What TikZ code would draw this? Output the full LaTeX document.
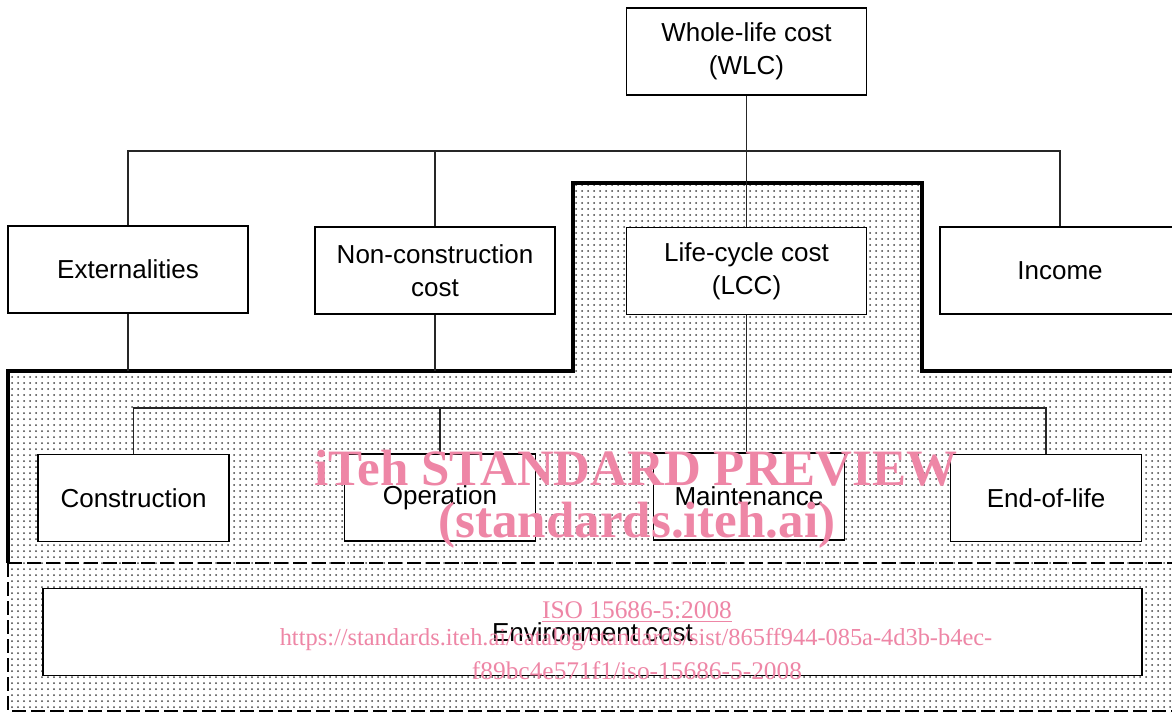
\documentclass[tikz,border=0pt]{standalone}
\usepackage{fontspec}
\setmainfont{Liberation Sans}
\newfontfamily\wmserif{Liberation Serif}
\usepackage{tikz}
\usetikzlibrary{
  positioning,
  patterns
}
\definecolor{wmpink}{RGB}{238,134,166}
\tikzset{
  costbox/.style={draw, line width=0.75pt, fill=white, align=center, inner sep=0pt,
    minimum width=120pt, minimum height=43.5pt,
    font=\fontsize{13}{16.5}\selectfont},
  phasebox/.style={costbox, minimum width=95.5pt},
  link/.style={draw=black!85, line width=0.55pt},
  rim/.style={line width=1.6pt, line join=miter},
  dashrim/.style={line width=1.1pt, dash pattern=on 7pt off 2.5pt},
  wmark/.style={text=wmpink, inner sep=0pt, anchor=base}
}
\begin{document}
\begin{tikzpicture}[x=0.5pt,y=-0.5pt]
            \clip (0,0) rectangle (1172,713);
            \useasboundingbox (0,0) rectangle (1172,713);
            % shaded LCC area and environment strip
            \fill[pattern=dots, pattern color=black!75]
              (8,712) -- (8,371) -- (573,371) -- (573,183) -- (922,183) -- (922,371) -- (1172,371) -- (1172,712) -- cycle;
            \draw[rim] (8,563) -- (8,371) -- (573,371) -- (573,183) -- (922,183) -- (922,371) -- (1180,371);
            \draw[dashrim] (8,563) -- (1180,563);
            \draw[dashrim] (8,563) -- (8,711) -- (1180,711);
            % top level
            \node[costbox] (wlc) at (746.5,51.5) {Whole-life cost\\(WLC)};
            \node[costbox] (ext) at (128,269.5) {Externalities};
            \node[costbox] (noncon) at (435,270.5) {Non-construction\\cost};
            \node[costbox] (lcc) at (746.5,271) {Life-cycle cost\\(LCC)};
            \node[costbox] (income) at (1060,270.5) {Income};
            % life-cycle phases
            \node[phasebox] (constr) at (133.5,498) {Construction};
            \node[phasebox] (oper) at (440,497.5) {Operation};
            \node[phasebox] (maint) at (749,496.5) {Maintenance};
            \node[phasebox] (eol) at (1046,498) {End-of-life};
            \node[costbox, minimum width=549.5pt] (env) at (592.5,632) {Environment cost};
            % connectors
            \coordinate (topbus) at (746.5,151);
            \coordinate (lowbus) at (746.5,408);
            \coordinate (rimline) at (0,371);
            \draw[link] (wlc.south) -- (lcc.north);
            \draw[link] (ext.north) |- (topbus) -| (income.north);
            \draw[link] (noncon.north) -- (noncon.north|-topbus);
            \draw[link] (ext.south) -- (ext.south|-rimline);
            \draw[link] (noncon.south) -- (noncon.south|-rimline);
            \draw[link] (lcc.south) -- (lcc.south|-maint.north);
            \draw[link] (constr.north) |- (lowbus) -| (eol.north);
            \draw[link] (oper.north) -- (oper.north|-lowbus);
            % watermark
            \node[wmark, font=\wmserif\bfseries\fontsize{25.5}{28}\selectfont] (wmtitle) at (636,485) {iTeh STANDARD PREVIEW};
            \node[wmark, font=\wmserif\bfseries\fontsize{25.5}{28}\selectfont] (wmsite) at (637,537) {(standards.iteh.ai)};
            \node[wmark, font=\wmserif\fontsize{12.7}{14}\selectfont] (wmiso) at (637,618) {\underline{ISO 15686-5:2008}};
            \node[wmark, font=\wmserif\fontsize{12.2}{14}\selectfont] (wmurl) at (636,645) {https://standards.iteh.ai/catalog/standards/sist/865ff944-085a-4d3b-b4ec-};
            \node[wmark, font=\wmserif\fontsize{12.7}{14}\selectfont] (wmid) at (637,679) {f89bc4e571f1/iso-15686-5-2008};
        \end{tikzpicture}
\end{document}
